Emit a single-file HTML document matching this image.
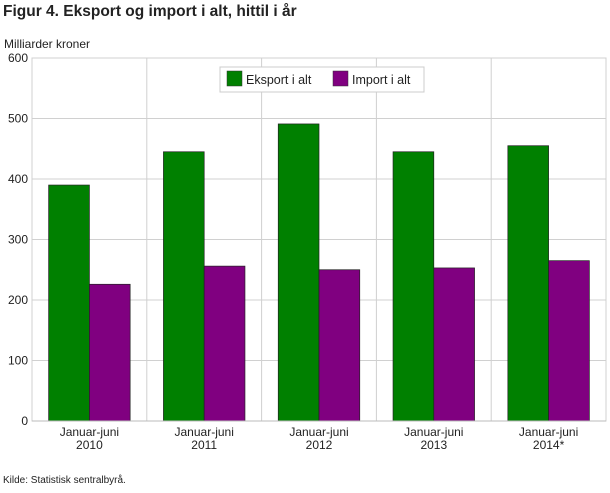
<!DOCTYPE html>
<html><head><meta charset="utf-8"><style>
body{margin:0;background:#fff;font-family:"Liberation Sans","DejaVu Sans",sans-serif;}
svg text{font-family:"Liberation Sans","DejaVu Sans",sans-serif;fill:#222;}
</style></head><body>
<svg id="chart" width="610" height="488">
<text x="3" y="16" font-size="15.5" font-weight="bold" fill="#333">Figur 4. Eksport og import i alt, hittil i år</text>
<text x="4" y="48" font-size="12">Milliarder kroner</text>
<g id="grid"></g><g id="bars"></g><g id="axes"></g>
<g>
<rect x="220" y="67" width="204" height="25" fill="#fff" stroke="#ccc"/>
<rect x="227" y="71" width="15" height="15" fill="#008000" stroke="#333" stroke-width="0.5"/>
<text x="246" y="84" font-size="12.5">Eksport i alt</text>
<rect x="333" y="71" width="15" height="15" fill="#800080" stroke="#333" stroke-width="0.5"/>
<text x="352" y="84" font-size="12.5">Import i alt</text>
</g>
<text x="3" y="483" font-size="10">Kilde: Statistisk sentralbyrå.</text>
</svg>
<script>
const categories=["Januar-juni|2010","Januar-juni|2011","Januar-juni|2012","Januar-juni|2013","Januar-juni|2014*"];
const eksport=[390,445,491,445,455];
const importVals=[226,256,250,253,265];
const yTicks=[0,100,200,300,400,500,600];
const L=32,R=606,T=58,B=421,yMax=600;
const NS="http://www.w3.org/2000/svg";
const y=v=>B-(v/yMax)*(B-T);
const bw=(R-L)/categories.length;
const x=i=>L+i*bw;
function mk(tag,attrs,parent){const e=document.createElementNS(NS,tag);for(const k in attrs)e.setAttribute(k,attrs[k]);document.getElementById(parent).appendChild(e);return e;}
yTicks.forEach(t=>{
 const l=mk('line',{x1:L,x2:R,y1:y(t),y2:y(t),stroke:'#d0d0d0'},'grid');
 
 
 const tx=mk('text',{x:28,y:y(t)+4,'text-anchor':'end','font-size':12},'axes');
 tx.textContent=t;
 
 
});
for(let i=1;i<categories.length;i++){
 const l=mk('line',{x1:x(i),x2:x(i),y1:T,y2:B,stroke:'#d0d0d0'},'grid');
 
 
}
const fr=mk('rect',{x:L,y:T,width:R-L,height:B-T,fill:'none',stroke:'#d0d0d0'},'grid');


const w=bw*0.355;
categories.forEach((c,i)=>{
 const cx=x(i)+bw/2;
 const g=mk('rect',{x:cx-w,y:y(eksport[i]),width:w,height:B-y(eksport[i]),fill:'#008000',stroke:'#222','stroke-width':0.7},'bars');
 
 
 const p=mk('rect',{x:cx,y:y(importVals[i]),width:w,height:B-y(importVals[i]),fill:'#800080',stroke:'#222','stroke-width':0.7},'bars');
 
 
 const parts=c.split('|');
 parts.forEach((s,j)=>{
  const t=mk('text',{x:cx,y:436+j*13,'text-anchor':'middle','font-size':12},'axes');
  t.textContent=s;
  
  
 });
});
const ax=mk('line',{x1:L,x2:R,y1:B,y2:B,stroke:'#bbb'},'axes');


</script>
</body></html>
